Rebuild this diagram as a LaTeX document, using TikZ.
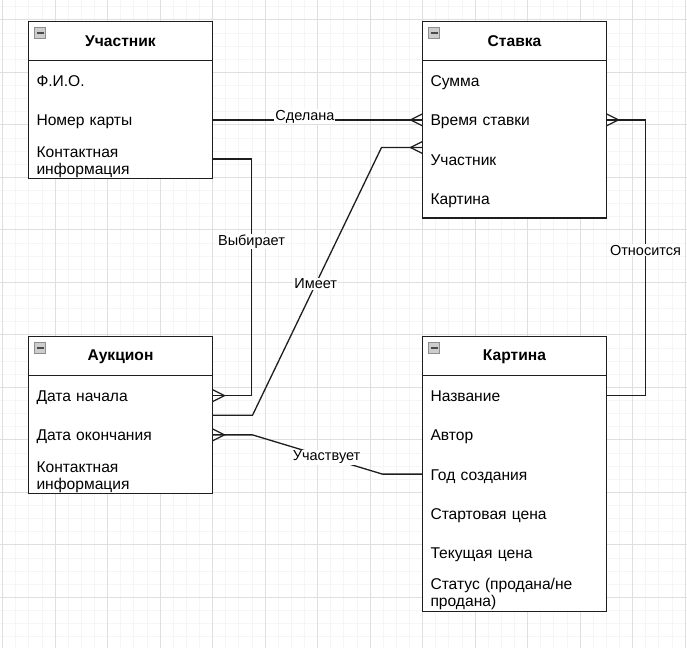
\documentclass[tikz,border=0pt]{standalone}
\usepackage{fontspec}
\setmainfont{Liberation Sans}
\usetikzlibrary{calc,positioning}
\definecolor{erink}{HTML}{1E1E1E}
\definecolor{ergridminor}{HTML}{F5F5F5}
\definecolor{ergridmajor}{HTML}{DFDFDF}
\definecolor{ericonfill}{HTML}{CDCDCD}
\definecolor{ericonedge}{HTML}{8E8E8E}
\tikzset{
  er grid minor/.style={draw=ergridminor, line width=0.7pt},
  er grid major/.style={draw=ergridmajor, line width=0.8pt},
  er head/.style={draw=erink, line width=1.4pt, fill=white, outer sep=0pt,
    minimum width=184pt, minimum height=39.5pt, inner sep=0pt,
    font=\fontsize{15.6}{18}\selectfont\bfseries},
  er row/.style={fill=white, outer sep=0pt, minimum width=184pt, minimum height=39.25pt,
    text width=168pt, inner xsep=8pt, inner ysep=0pt, align=left,
    text height=15pt, text depth=3pt, font=\fontsize{15.6}{17}\selectfont},
  er wrap/.style={er row, text height=12pt, text depth=16pt},
  er frame/.style={draw=erink, line width=1.4pt},
  er link/.style={draw=erink, line width=1.3pt},
  er label/.style={fill=white, inner sep=1pt, font=\fontsize{14.5}{16}\selectfont},
  er toggle/.pic={
    \draw[draw=ericonedge, fill=ericonfill, line width=0.8pt] (0,0) rectangle (11,11);
    \draw[draw=erink!80, line width=2pt] (2,5.5) -- (9,5.5);
  },
  er many/.pic={
    \draw[er link] (0,-6) -- (12,0) -- (0,6);
  }
}

\begin{document}
\begin{tikzpicture}[x=1pt, y=-1pt]
  \useasboundingbox (0,0) rectangle (687,648);
  \fill[white] (0,0) rectangle (687,648);
  % grid
  \foreach \k in {0,...,52} {
    \draw[er grid minor] ({2.5+13.125*\k},0) -- ++(0,648);
  }
  \foreach \k in {0,...,49} {
    \draw[er grid minor] (0,{6.675+13.125*\k}) -- ++(687,0);
  }
  \foreach \k in {0,...,13} {
    \draw[er grid major] ({2.5+52.5*\k},0) -- ++(0,648);
  }
  \foreach \k in {0,...,12} {
    \draw[er grid major] (0,{19.8+52.5*\k}) -- ++(687,0);
  }

  % Участник
  \node[er head] (uch) at (120.5,41.25) {Участник};
  \node[er row, below=0pt of uch] (uch-fio) {Ф.И.О.};
  \node[er row, below=0pt of uch-fio] (uch-card) {Номер карты};
  \node[er wrap, below=0pt of uch-card] (uch-contact) {Контактная\\информация};
  \draw[er frame] (uch.north west) rectangle (uch-contact.south east);
  \pic at ([shift={(6,6)}]uch.north west) {er toggle};

  % Ставка
  \node[er head] (stv) at (514.5,41.25) {Ставка};
  \node[er row, below=0pt of stv] (stv-sum) {Сумма};
  \node[er row, below=0pt of stv-sum] (stv-time) {Время ставки};
  \node[er row, below=0pt of stv-time] (stv-user) {Участник};
  \node[er row, below=0pt of stv-user] (stv-pic) {Картина};
  \draw[er frame] (stv.north west) rectangle (stv-pic.south east);
  \pic at ([shift={(6,6)}]stv.north west) {er toggle};

  % Аукцион
  \node[er head] (auk) at (120.5,356.25) {Аукцион};
  \node[er row, below=0pt of auk] (auk-start) {Дата начала};
  \node[er row, below=0pt of auk-start] (auk-end) {Дата окончания};
  \node[er wrap, below=0pt of auk-end] (auk-contact) {Контактная\\информация};
  \draw[er frame] (auk.north west) rectangle (auk-contact.south east);
  \pic at ([shift={(6,6)}]auk.north west) {er toggle};

  % Картина
  \node[er head] (kar) at (514.5,356.25) {Картина};
  \node[er row, below=0pt of kar] (kar-title) {Название};
  \node[er row, below=0pt of kar-title] (kar-author) {Автор};
  \node[er row, below=0pt of kar-author] (kar-year) {Год создания};
  \node[er row, below=0pt of kar-year] (kar-start) {Стартовая цена};
  \node[er row, below=0pt of kar-start] (kar-now) {Текущая цена};
  \node[er wrap, below=0pt of kar-now] (kar-status) {Статус (продана/не\\продана)};
  \draw[er frame] (kar.north west) rectangle (kar-status.south east);
  \pic at ([shift={(6,6)}]kar.north west) {er toggle};

  % links
  \draw[er link] (uch-card.east) -- node[er label, pos=0.44, yshift=3pt] (l-made) {Сделана} (stv-time.west);
  \pic[rotate=180] at (stv-time.west) {er many};

  \draw[er link] (uch-contact.east) -- ++(39,0) |- node[er label, pos=0.174] (l-choose) {Выбирает} (auk-start.east);
  \pic at (auk-start.east) {er many};

  \coordinate (stv-in) at ([yshift=-8pt]stv-time.south west);
  \draw[er link] (auk-start.south east) -- ++(40,0) -- node[er label, pos=0.49] (l-has) {Имеет} ([xshift=-41pt]stv-in) -- (stv-in);
  \pic[rotate=180] at (stv-in) {er many};

  \draw[er link] (kar-year.west) -- ++(-40,0) -- node[er label, pos=0.43] (l-part) {Участвует} ([xshift=40pt]auk-end.east) -- (auk-end.east);
  \pic at (auk-end.east) {er many};

  \draw[er link] (kar-title.east) -- ++(39,0) |- node[er label, pos=0.264] (l-rel) {Относится} (stv-time.east);
  \pic at (stv-time.east) {er many};
\end{tikzpicture}
\end{document}
